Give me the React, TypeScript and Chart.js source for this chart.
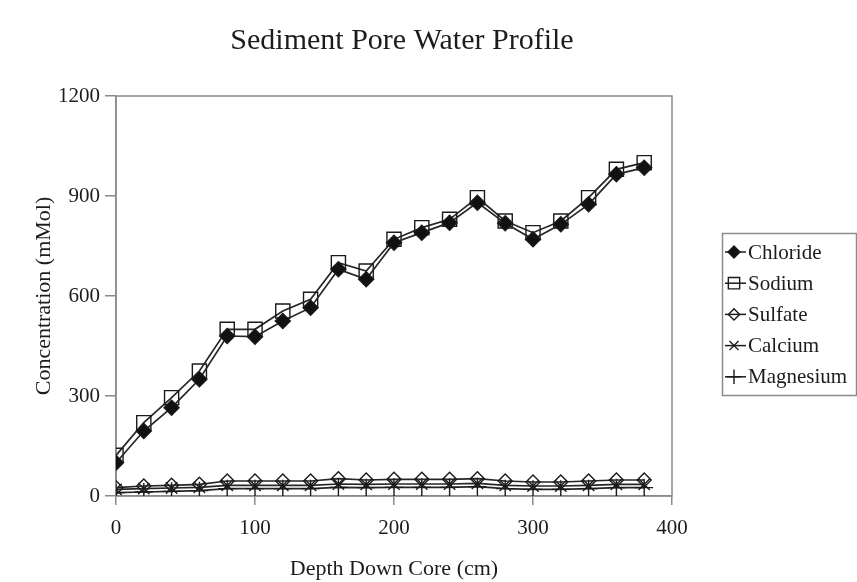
import React, { useEffect, useRef } from 'react';
import { Chart, registerables } from 'chart.js';
import { drawPoint } from 'chart.js/helpers';

Chart.register(...registerables);

const chartTitle = 'Sediment Pore Water Profile';
const xAxisTitle = 'Depth Down Core (cm)';
const yAxisTitle = 'Concentration (mMol)';

const depths = [0, 20, 40, 60, 80, 100, 120, 140, 160, 180, 200, 220, 240, 260, 280, 300, 320, 340, 360, 380];
const chloride = [100, 195, 265, 350, 480, 478, 525, 565, 680, 650, 760, 790, 820, 880, 818, 770, 815, 875, 965, 985];
const sodium = [122, 220, 295, 375, 500, 500, 555, 590, 700, 675, 770, 805, 830, 895, 825, 790, 825, 895, 980, 1000];
const sulfate = [25, 30, 32, 35, 45, 45, 45, 45, 52, 48, 50, 50, 50, 52, 45, 42, 42, 45, 48, 48];
const calcium = [20, 22, 24, 26, 32, 32, 32, 32, 36, 35, 36, 36, 36, 38, 32, 30, 30, 32, 35, 35];
const magnesium = [10, 12, 14, 16, 22, 22, 22, 22, 26, 25, 26, 26, 26, 28, 22, 20, 20, 22, 25, 25];

const seriesNames = ['Chloride', 'Sodium', 'Sulfate', 'Calcium', 'Magnesium'];
const seriesValues = [chloride, sodium, sulfate, calcium, magnesium];
const seriesMarkers = ['rectRot', 'rect', 'rectRot', 'crossRot', 'cross'];
const seriesRadii = [7.5, 10, 7, 8, 9];
const seriesFilled = [true, false, false, false, false];

const xTicks = [0, 100, 200, 300, 400];
const yTicks = [0, 300, 600, 900, 1200];

const FONT = '"Liberation Serif", "Times New Roman", serif';
const INK = '#1c1c1c';
const AXIS = '#8a8a8a';

const decorPlugin = {
  id: 'decor',
  beforeDatasetsDraw(chart: any) {
    const { ctx, chartArea } = chart;
    ctx.save();
    ctx.strokeStyle = AXIS;
    ctx.lineWidth = 1.5;
    ctx.strokeRect(chartArea.left, chartArea.top, chartArea.right - chartArea.left, chartArea.bottom - chartArea.top);
    ctx.restore();
  },
  afterDraw(chart: any) {
    const { ctx, chartArea } = chart;
    ctx.save();
    // title
    ctx.fillStyle = INK;
    ctx.font = `30px ${FONT}`;
    ctx.textAlign = 'center';
    ctx.textBaseline = 'middle';
    ctx.fillText(chartTitle, (chartArea.left + chartArea.right) / 2 + 8, 41);

    // legend
    const boxX = chartArea.right + 50;
    const boxY = 233;
    const boxW = 134;
    const boxH = 162;
    ctx.strokeStyle = AXIS;
    ctx.lineWidth = 1.5;
    ctx.strokeRect(boxX + 0.5, boxY + 0.5, boxW, boxH);
    chart.data.datasets.forEach((ds: any, i: number) => {
      const y = boxY + 19 + i * 31.2;
      ctx.strokeStyle = INK;
      ctx.lineWidth = 1.5;
      ctx.beginPath();
      ctx.moveTo(boxX + 3, y);
      ctx.lineTo(boxX + 24, y);
      ctx.stroke();
      ctx.fillStyle = ds.pointBackgroundColor;
      ctx.strokeStyle = ds.pointBorderColor;
      ctx.lineWidth = ds.pointBorderWidth;
      drawPoint(ctx, { pointStyle: ds.pointStyle, radius: ds.pointRadius * 0.8, rotation: 0, borderWidth: ds.pointBorderWidth }, boxX + 12, y);
      ctx.fillStyle = INK;
      ctx.font = `21px ${FONT}`;
      ctx.textAlign = 'left';
      ctx.textBaseline = 'middle';
      ctx.fillText(ds.label, boxX + 26, y + 1);
    });
    ctx.restore();
  },
};

export default function App() {
  const canvasRef = useRef<HTMLCanvasElement | null>(null);

  useEffect(() => {
    document.body.style.margin = '0';
    const canvas = canvasRef.current;
    if (!canvas) return;
    const datasets = seriesNames.map((name, i) => ({
      label: name,
      data: depths.map((d, j) => ({ x: d, y: seriesValues[i][j] })),
      borderColor: '#262626',
      borderWidth: 1.7,
      pointStyle: seriesMarkers[i],
      pointRadius: seriesRadii[i],
      pointBackgroundColor: seriesFilled[i] ? '#111111' : 'rgba(255,255,255,0)',
      pointBorderColor: '#1a1a1a',
      pointBorderWidth: 1.4,
      tension: 0,
      fill: false,
    }));
    const chart = new Chart(canvas, {
      type: 'line',
      data: { datasets },
      options: {
        responsive: false,
        animation: false,
        layout: { padding: { top: 96, right: 185, left: 0, bottom: 0 } },
        plugins: {
          legend: { display: false },
          title: { display: false },
          tooltip: { enabled: false },
        },
        scales: {
          x: {
            type: 'linear',
            min: 0,
            max: 400,
            afterFit(scale: any) { scale.height = 86; },
            afterBuildTicks(scale: any) { scale.ticks = xTicks.map((v) => ({ value: v })); },
            grid: { drawOnChartArea: false, drawTicks: true, tickLength: 9, color: AXIS, lineWidth: 1.5 },
            border: { display: true, color: AXIS, width: 1.5 },
            ticks: { color: INK, font: { family: FONT, size: 21 }, padding: 11, maxRotation: 0, callback: (v: any) => String(v) },
            title: { display: true, text: xAxisTitle, color: INK, font: { family: FONT, size: 22 }, padding: { top: 0, bottom: 0 } },
          },
          y: {
            type: 'linear',
            min: 0,
            max: 1200,
            afterFit(scale: any) { scale.width = 116; },
            afterBuildTicks(scale: any) { scale.ticks = yTicks.map((v) => ({ value: v })); },
            grid: { drawOnChartArea: false, drawTicks: true, tickLength: 11, color: AXIS, lineWidth: 1.5 },
            border: { display: true, color: AXIS, width: 1.5 },
            ticks: { color: INK, font: { family: FONT, size: 21 }, padding: 5, callback: (v: any) => String(v) },
            title: { display: true, text: yAxisTitle, color: INK, font: { family: FONT, size: 22 }, padding: { top: 31, bottom: 0 } },
          },
        },
      },
      plugins: [decorPlugin],
    } as any);
    return () => chart.destroy();
  }, []);

  return (
    <div style={{ width: 857, height: 582, background: '#ffffff' }}>
      <canvas ref={canvasRef} width={857} height={582} style={{ display: 'block' }} />
    </div>
  );
}
